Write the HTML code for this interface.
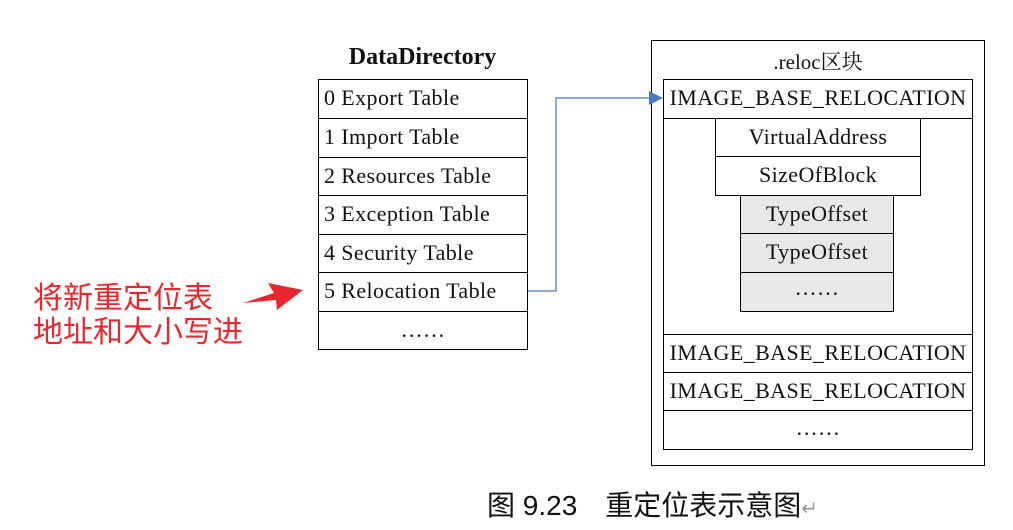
<!DOCTYPE html>
<html><head><meta charset="utf-8"><style>
body{margin:0;width:1013px;height:530px;background:#fff;position:relative;overflow:hidden;font-family:"Liberation Serif","Noto Serif CJK SC",serif;color:#111}
.b{position:absolute;border:1px solid #000;box-sizing:border-box}
.r{position:absolute;box-sizing:border-box;border:1px solid #000;font-size:22px;line-height:36px;white-space:nowrap;letter-spacing:0.4px}
.l{padding-left:5px}
.c{text-align:center}
.g{background:#e8e8e8}
</style></head><body>
<div style="position:absolute;left:318px;top:44px;width:209px;text-align:center;font-weight:bold;font-size:24px">DataDirectory</div>
<div class="r l" style="left:318px;top:79px;width:210px;height:40px">0 Export Table</div>
<div class="r l" style="left:318px;top:118px;width:210px;height:40px">1 Import Table</div>
<div class="r l" style="left:318px;top:157px;width:210px;height:39px">2 Resources Table</div>
<div class="r l" style="left:318px;top:195px;width:210px;height:40px">3 Exception Table</div>
<div class="r l" style="left:318px;top:234px;width:210px;height:39px">4 Security Table</div>
<div class="r l" style="left:318px;top:272px;width:210px;height:40px">5 Relocation Table</div>
<div class="r c" style="left:318px;top:311px;width:210px;height:39px">……</div>

<div class="b" style="left:651px;top:40px;width:334px;height:426px"></div>
<div style="position:absolute;left:651px;top:46px;width:334px;text-align:center;font-size:21px">.reloc区块</div>
<div class="b" style="left:663px;top:79px;width:310px;height:256px"></div>
<div class="r c" style="left:663px;top:79px;width:310px;height:40px">IMAGE_BASE_RELOCATION</div>
<div class="r c" style="left:715px;top:118px;width:206px;height:39px">VirtualAddress</div>
<div class="r c" style="left:715px;top:156px;width:206px;height:40px">SizeOfBlock</div>
<div class="r c g" style="left:740px;top:195px;width:154px;height:39px">TypeOffset</div>
<div class="r c g" style="left:740px;top:233px;width:154px;height:40px">TypeOffset</div>
<div class="r c g" style="left:740px;top:272px;width:154px;height:40px;line-height:30px">……</div>
<div class="r c" style="left:663px;top:334px;width:310px;height:39px">IMAGE_BASE_RELOCATION</div>
<div class="r c" style="left:663px;top:372px;width:310px;height:39px">IMAGE_BASE_RELOCATION</div>
<div class="r c" style="left:663px;top:410px;width:310px;height:40px;line-height:34px">……</div>

<svg style="position:absolute;left:0;top:0" width="1013" height="530">
<polyline points="528,291 556,291 556,98 650,98" fill="none" stroke="#4a7bc0" stroke-width="1.3"/>
<polygon points="663,98 649,91 649,105" fill="#4a7bc0"/>
<polygon points="243,303 274,293 268,283 303,290 277,310 276,300" fill="#e8262d"/>
</svg>
<div style="position:absolute;left:33px;top:278px;font-family:'Noto Sans CJK SC',sans-serif;color:#e8262d;font-size:30px;line-height:34px">将新重定位表<br>地址和大小写进</div>
<div style="position:absolute;left:487px;top:486px;font-family:'Liberation Sans','Noto Sans CJK SC',sans-serif;font-size:28px;line-height:40px;color:#111">图 9.23　重定位表示意图<span style="color:#999;font-size:20px">↵</span></div>
</body></html>
